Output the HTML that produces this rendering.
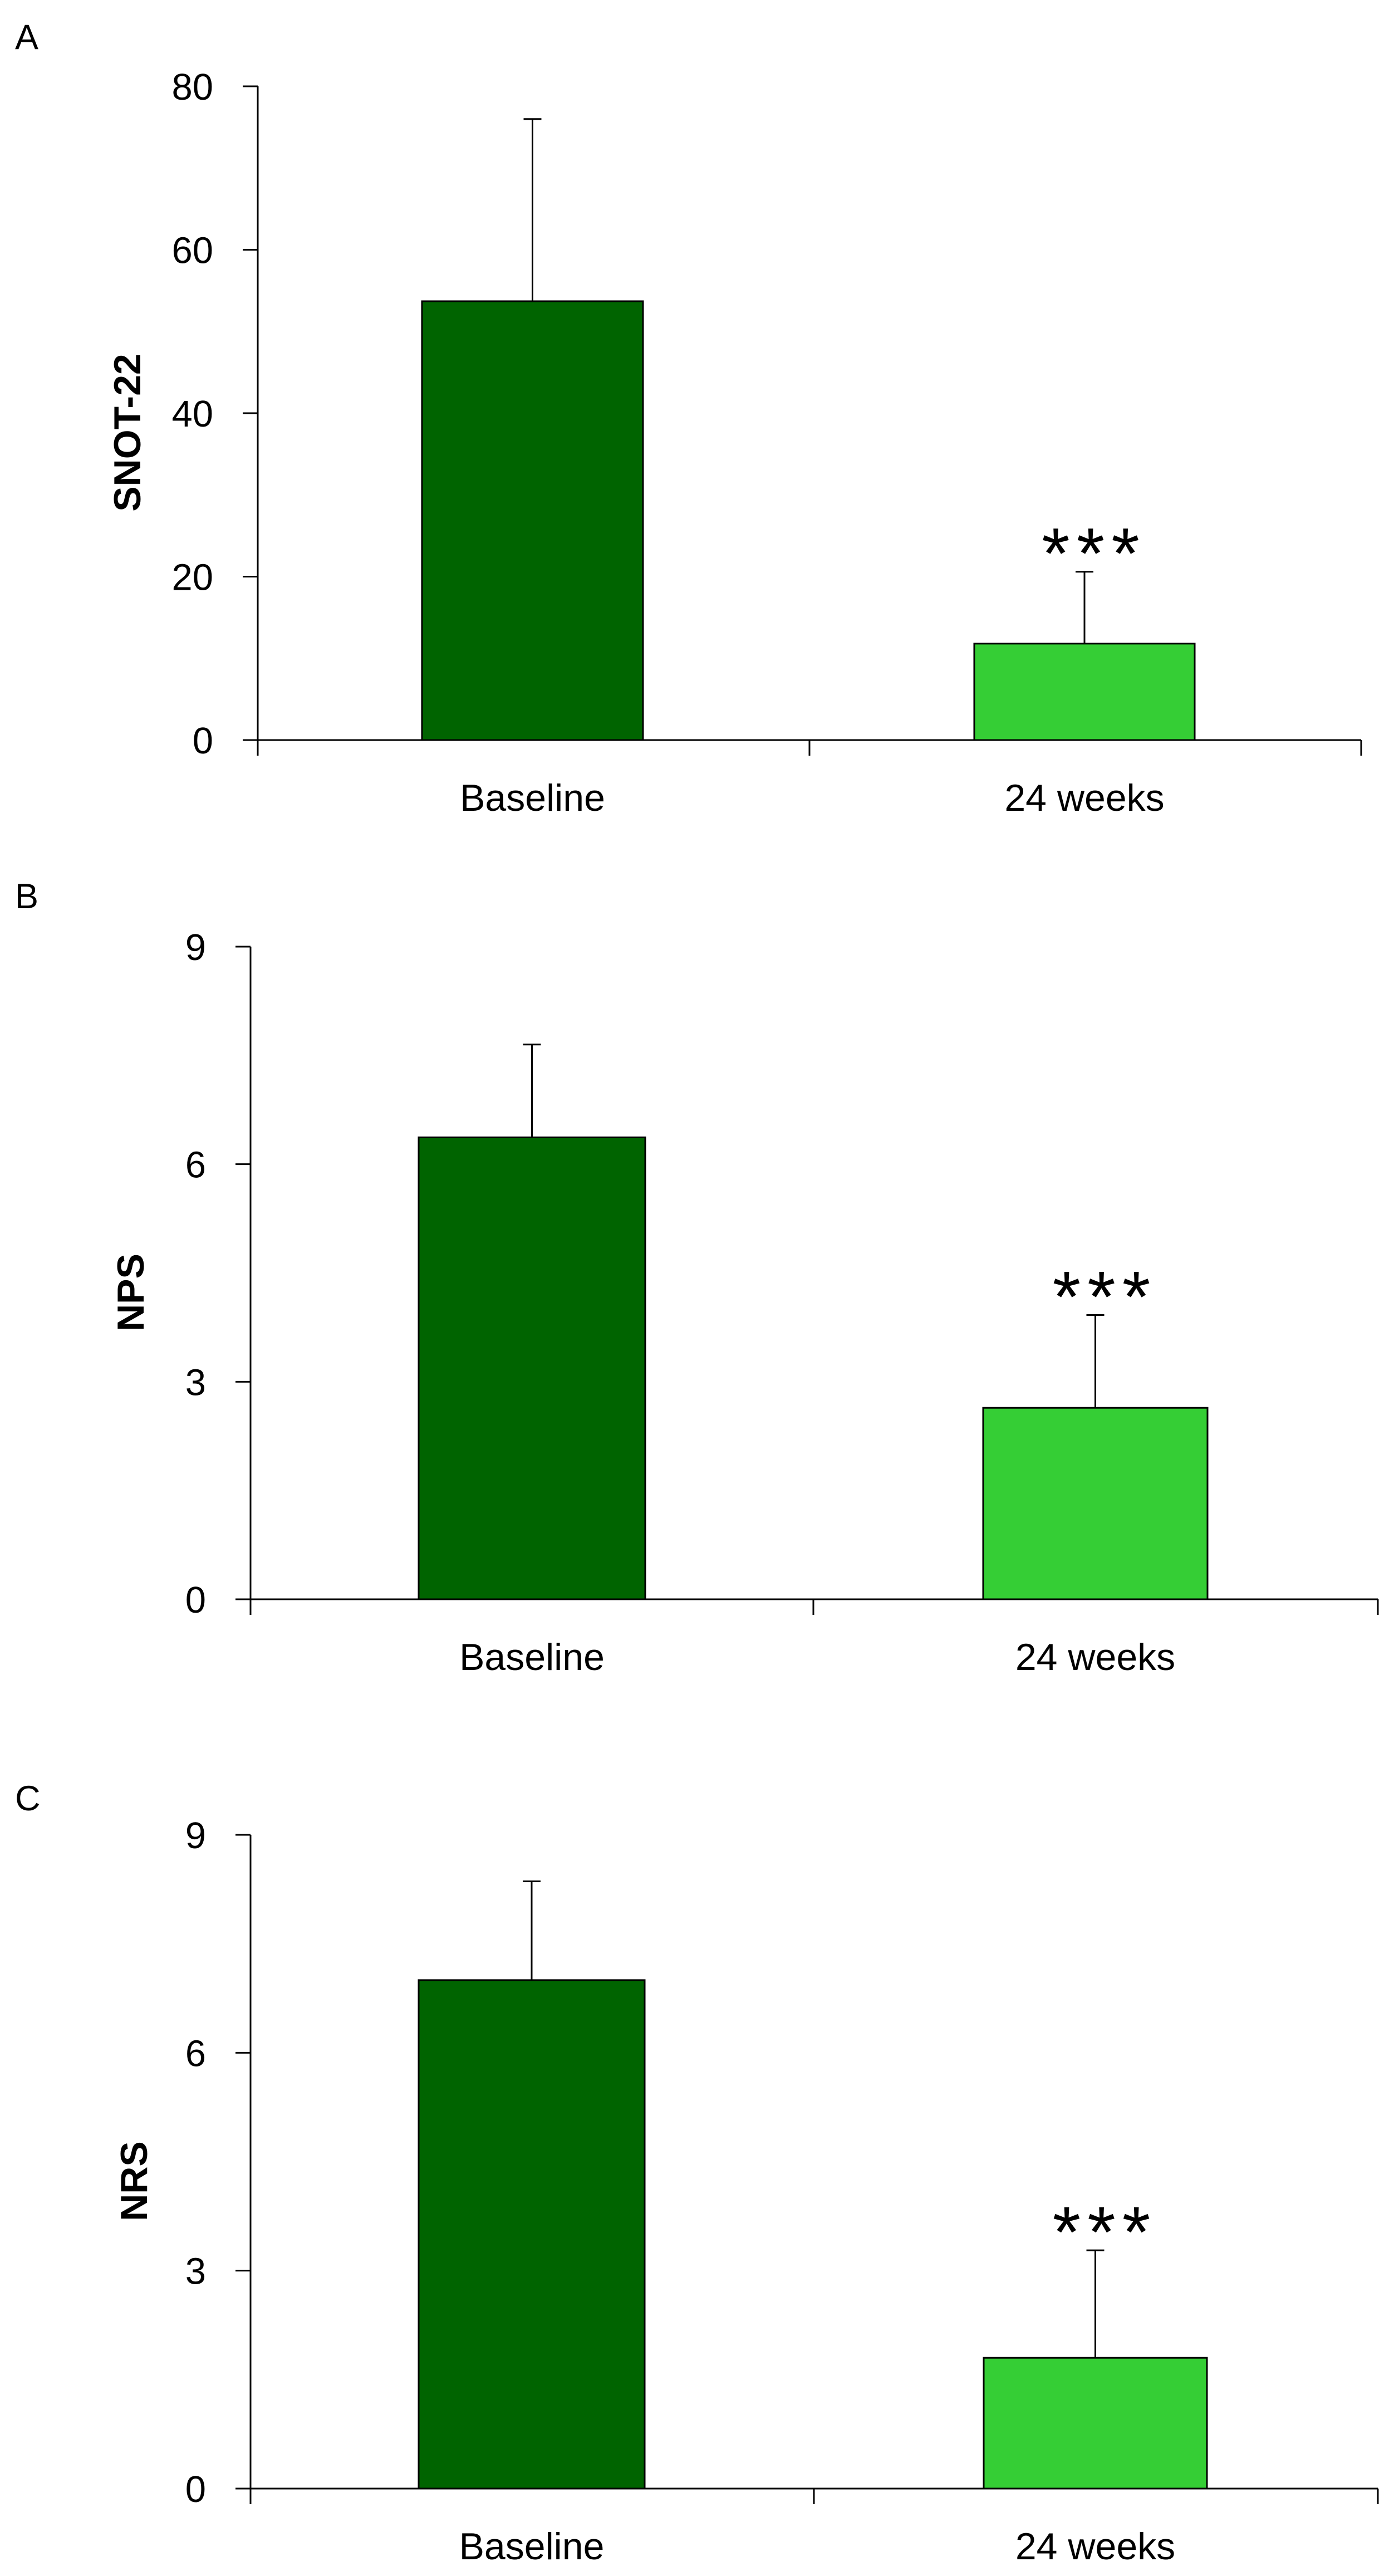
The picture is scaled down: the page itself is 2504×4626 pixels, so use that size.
<!DOCTYPE html>
<html><head><meta charset="utf-8"><style>
html,body{margin:0;padding:0;background:#fff;}
svg{display:block;}
text{font-family:"Liberation Sans",sans-serif;fill:#000;}
</style></head><body>
<svg id="fig" width="2504" height="4626" viewBox="0 0 2504 4626" xmlns="http://www.w3.org/2000/svg"></svg>
<script>
const categories = ["Baseline", "24 weeks"];
const panelLetters = ["A", "B", "C"];
const axisTitles = ["SNOT-22", "NPS", "NRS"];
const snotMeans = [53.7, 11.8];
const snotErrs = [22.3, 8.8];
const npsMeans = [6.37, 2.64];
const npsErrs = [1.28, 1.28];
const nrsMeans = [7.0, 1.8];
const nrsErrs = [1.36, 1.48];
const snotTicks = [0, 20, 40, 60, 80];
const npsTicks = [0, 3, 6, 9];
const nrsTicks = [0, 3, 6, 9];
const sigMarks = ["", "***"];

const NS = "http://www.w3.org/2000/svg";
const svg = document.getElementById("fig");
function mk(tag, attrs, parent) {
  const e = document.createElementNS(NS, tag);
  for (const k in attrs) e.setAttribute(k, attrs[k]);
  (parent || svg).appendChild(e);
  return e;
}
const layouts = [
  {ax: 463, xr: 2445, mid: 1454, yTop: 155, y0: 1329, letterY: 88, bars: [[758, 1155], [1750, 2146]], titleX: 228},
  {ax: 450, xr: 2475, mid: 1461, yTop: 1700, y0: 2872, letterY: 1631, bars: [[752, 1159], [1766, 2169]], titleX: 234},
  {ax: 450, xr: 2475, mid: 1462, yTop: 3295, y0: 4469, letterY: 3251, bars: [[752, 1158], [1767, 2168]], titleX: 240}
];
const panels = [
  {means: snotMeans, errs: snotErrs, ticks: snotTicks},
  {means: npsMeans, errs: npsErrs, ticks: npsTicks},
  {means: nrsMeans, errs: nrsErrs, ticks: nrsTicks}
];
const colors = ["#006400", "#35ce35"];

panels.forEach((p, i) => {
  const L = layouts[i];
  const g = mk("g", {});
  
  
  const maxV = p.ticks[p.ticks.length - 1];
  const y = v => L.y0 - (v / maxV) * (L.y0 - L.yTop);

  const letter = mk("text", {x: 27, y: L.letterY, "font-size": 63}, g);
  letter.textContent = panelLetters[i];
  
  

  p.means.forEach((m, j) => {
    const [x1, x2] = L.bars[j];
    const r = mk("rect", {x: x1, y: y(m), width: x2 - x1, height: L.y0 - y(m), fill: colors[j], stroke: "#000", "stroke-width": 3}, g);
    
    
    const cx = (x1 + x2) / 2;
    const et = y(m + p.errs[j]);
    const eg = mk("g", {stroke: "#000", "stroke-width": 3}, g);
    
    
    mk("line", {x1: cx, x2: cx, y1: y(m), y2: et}, eg);
    mk("line", {x1: cx - 16, x2: cx + 16, y1: et, y2: et}, eg);
    if (sigMarks[j]) {
      const s = mk("text", {x: cx + 17, y: et + 12, "font-size": 130, "text-anchor": "middle", "letter-spacing": 12}, g);
      s.textContent = sigMarks[j];
      
      
    }
    const cl = mk("text", {x: cx, y: L.y0 + 127, "font-size": 68, "text-anchor": "middle"}, g);
    cl.textContent = categories[j];
    
    
  });

  const axG = mk("g", {stroke: "#000", "stroke-width": 3}, g);
  
  
  mk("line", {x1: L.ax, x2: L.ax, y1: L.yTop, y2: L.y0 + 28}, axG);
  mk("line", {x1: L.ax, x2: L.xr, y1: L.y0, y2: L.y0}, axG);
  mk("line", {x1: L.mid, x2: L.mid, y1: L.y0, y2: L.y0 + 28}, axG);
  mk("line", {x1: L.xr, x2: L.xr, y1: L.y0, y2: L.y0 + 28}, axG);
  p.ticks.forEach(t => {
    mk("line", {x1: L.ax - 27, x2: L.ax, y1: y(t), y2: y(t)}, axG);
    const tl = mk("text", {x: L.ax - 80, y: y(t) + 24, "font-size": 67, "text-anchor": "end"}, g);
    tl.textContent = t;
    
    
  });

  const cy = (L.yTop + L.y0) / 2 + 35;
  const at = mk("text", {x: L.titleX, y: cy, "font-size": 68, "font-weight": "bold", "text-anchor": "middle", transform: "rotate(-90 " + L.titleX + " " + cy + ")", dy: 24}, g);
  at.textContent = axisTitles[i];
  
  
});
</script>
</body></html>
